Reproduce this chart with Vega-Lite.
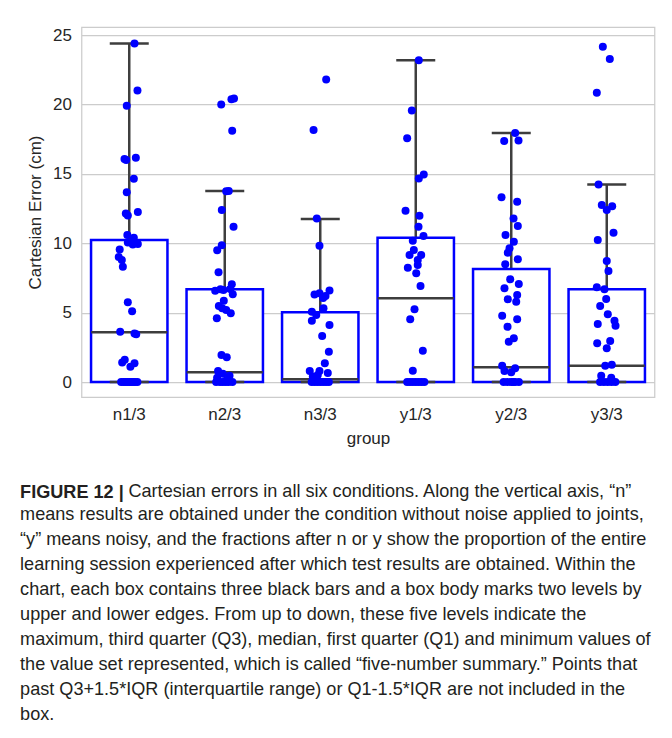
{
  "$schema": "https://vega.github.io/schema/vega-lite/v6.json",
  "padding": {"left": 18.5, "top": 25, "right": 10, "bottom": 10},
  "background": "white",
  "config": {
    "view": {"stroke": "#cccccc", "strokeWidth": 1.25},
    "font": "Liberation Sans"
  },
  "title": {
    "text": "Cartesian errors in all six conditions. Along the vertical axis, “n”",
    "orient": "bottom",
    "anchor": "start",
    "frame": "bounds",
    "dx": 109,
    "offset": -242,
    "font": "Liberation Sans",
    "fontSize": 18.1,
    "fontWeight": "normal",
    "color": "#231f20"
  },
  "datasets": {
    "stats": [
      {"group": "n1/3", "min": 0, "q1": 0, "median": 3.58, "q3": 10.23, "max": 24.4},
      {"group": "n2/3", "min": 0, "q1": 0, "median": 0.7, "q3": 6.68, "max": 13.76},
      {"group": "n3/3", "min": 0, "q1": 0, "median": 0.2, "q3": 5.02, "max": 11.74},
      {"group": "y1/3", "min": 0, "q1": 0, "median": 6.03, "q3": 10.4, "max": 23.18},
      {"group": "y2/3", "min": 0, "q1": 0, "median": 1.06, "q3": 8.14, "max": 17.94},
      {"group": "y3/3", "min": 0, "q1": 0, "median": 1.18, "q3": 6.68, "max": 14.24}
    ],
    "points": [
      {"group": "n1/3", "value": 24.4, "jitter": 0.055},
      {"group": "n1/3", "value": 21.0, "jitter": 0.086},
      {"group": "n1/3", "value": 19.9, "jitter": -0.026},
      {"group": "n1/3", "value": 16.07, "jitter": -0.05},
      {"group": "n1/3", "value": 16.0, "jitter": -0.032},
      {"group": "n1/3", "value": 16.15, "jitter": 0.069},
      {"group": "n1/3", "value": 14.65, "jitter": 0.048},
      {"group": "n1/3", "value": 13.67, "jitter": -0.026},
      {"group": "n1/3", "value": 12.15, "jitter": -0.036},
      {"group": "n1/3", "value": 12.0, "jitter": -0.015},
      {"group": "n1/3", "value": 12.25, "jitter": 0.09},
      {"group": "n1/3", "value": 10.6, "jitter": -0.02},
      {"group": "n1/3", "value": 10.4, "jitter": 0.048},
      {"group": "n1/3", "value": 10.05, "jitter": -0.015},
      {"group": "n1/3", "value": 9.9, "jitter": 0.037},
      {"group": "n1/3", "value": 9.95, "jitter": 0.09},
      {"group": "n1/3", "value": 9.55, "jitter": -0.1},
      {"group": "n1/3", "value": 9.0, "jitter": -0.11},
      {"group": "n1/3", "value": 8.8, "jitter": -0.078},
      {"group": "n1/3", "value": 8.3, "jitter": -0.067},
      {"group": "n1/3", "value": 5.75, "jitter": -0.015},
      {"group": "n1/3", "value": 5.1, "jitter": 0.03},
      {"group": "n1/3", "value": 3.63, "jitter": -0.095},
      {"group": "n1/3", "value": 3.5, "jitter": 0.055},
      {"group": "n1/3", "value": 3.45, "jitter": 0.073},
      {"group": "n1/3", "value": 1.6, "jitter": -0.047},
      {"group": "n1/3", "value": 1.4, "jitter": -0.074},
      {"group": "n1/3", "value": 1.35, "jitter": 0.055},
      {"group": "n1/3", "value": 1.1, "jitter": 0.012},
      {"group": "n1/3", "value": 0, "jitter": -0.085},
      {"group": "n1/3", "value": 0, "jitter": -0.06},
      {"group": "n1/3", "value": 0, "jitter": -0.04},
      {"group": "n1/3", "value": 0, "jitter": -0.02},
      {"group": "n1/3", "value": 0, "jitter": 0},
      {"group": "n1/3", "value": 0, "jitter": 0.02},
      {"group": "n1/3", "value": 0, "jitter": 0.04},
      {"group": "n1/3", "value": 0, "jitter": 0.06},
      {"group": "n1/3", "value": 0, "jitter": 0.085},

      {"group": "n2/3", "value": 20.0, "jitter": -0.037},
      {"group": "n2/3", "value": 20.37, "jitter": 0.07},
      {"group": "n2/3", "value": 20.43, "jitter": 0.097},
      {"group": "n2/3", "value": 18.1, "jitter": 0.078},
      {"group": "n2/3", "value": 13.74, "jitter": 0.015},
      {"group": "n2/3", "value": 13.76, "jitter": 0.042},
      {"group": "n2/3", "value": 12.39, "jitter": -0.031},
      {"group": "n2/3", "value": 11.19, "jitter": 0.092},
      {"group": "n2/3", "value": 9.85, "jitter": -0.031},
      {"group": "n2/3", "value": 9.5, "jitter": -0.079},
      {"group": "n2/3", "value": 7.9, "jitter": -0.065},
      {"group": "n2/3", "value": 7.04, "jitter": 0.074},
      {"group": "n2/3", "value": 6.58, "jitter": -0.1},
      {"group": "n2/3", "value": 6.68, "jitter": -0.045},
      {"group": "n2/3", "value": 6.63, "jitter": -0.013},
      {"group": "n2/3", "value": 6.7, "jitter": 0.057},
      {"group": "n2/3", "value": 6.32, "jitter": 0.084},
      {"group": "n2/3", "value": 5.86, "jitter": -0.01},
      {"group": "n2/3", "value": 5.48, "jitter": -0.062},
      {"group": "n2/3", "value": 5.31, "jitter": -0.027},
      {"group": "n2/3", "value": 5.19, "jitter": 0.015},
      {"group": "n2/3", "value": 4.95, "jitter": 0.063},
      {"group": "n2/3", "value": 4.59, "jitter": -0.083},
      {"group": "n2/3", "value": 1.95, "jitter": -0.034},
      {"group": "n2/3", "value": 1.78, "jitter": 0.021},
      {"group": "n2/3", "value": 0.8, "jitter": -0.07},
      {"group": "n2/3", "value": 0.6, "jitter": -0.02},
      {"group": "n2/3", "value": 0.45, "jitter": 0.05},
      {"group": "n2/3", "value": 0.3, "jitter": -0.08},
      {"group": "n2/3", "value": 0.15, "jitter": 0.02},
      {"group": "n2/3", "value": 0, "jitter": -0.09},
      {"group": "n2/3", "value": 0, "jitter": -0.05},
      {"group": "n2/3", "value": 0, "jitter": -0.02},
      {"group": "n2/3", "value": 0, "jitter": 0.01},
      {"group": "n2/3", "value": 0, "jitter": 0.04},
      {"group": "n2/3", "value": 0, "jitter": 0.08},

      {"group": "n3/3", "value": 21.8, "jitter": 0.062},
      {"group": "n3/3", "value": 18.16, "jitter": -0.07},
      {"group": "n3/3", "value": 11.78, "jitter": -0.036},
      {"group": "n3/3", "value": 9.82, "jitter": -0.008},
      {"group": "n3/3", "value": 6.3, "jitter": -0.06},
      {"group": "n3/3", "value": 6.4, "jitter": -0.008},
      {"group": "n3/3", "value": 6.2, "jitter": 0.055},
      {"group": "n3/3", "value": 6.6, "jitter": 0.097},
      {"group": "n3/3", "value": 6.05, "jitter": 0.03},
      {"group": "n3/3", "value": 5.31, "jitter": 0.034},
      {"group": "n3/3", "value": 5.07, "jitter": -0.088},
      {"group": "n3/3", "value": 4.83, "jitter": -0.042},
      {"group": "n3/3", "value": 4.42, "jitter": -0.088},
      {"group": "n3/3", "value": 4.11, "jitter": 0.097},
      {"group": "n3/3", "value": 3.31, "jitter": 0.02},
      {"group": "n3/3", "value": 2.18, "jitter": 0.09},
      {"group": "n3/3", "value": 1.35, "jitter": 0.048},
      {"group": "n3/3", "value": 0.8, "jitter": -0.11},
      {"group": "n3/3", "value": 0.8, "jitter": -0.008},
      {"group": "n3/3", "value": 0.65, "jitter": 0.079},
      {"group": "n3/3", "value": 0.5, "jitter": -0.026},
      {"group": "n3/3", "value": 0.4, "jitter": -0.078},
      {"group": "n3/3", "value": 0, "jitter": -0.09},
      {"group": "n3/3", "value": 0, "jitter": -0.06},
      {"group": "n3/3", "value": 0, "jitter": -0.03},
      {"group": "n3/3", "value": 0, "jitter": 0},
      {"group": "n3/3", "value": 0, "jitter": 0.03},
      {"group": "n3/3", "value": 0, "jitter": 0.06},
      {"group": "n3/3", "value": 0, "jitter": 0.09},

      {"group": "y1/3", "value": 23.18, "jitter": 0.032},
      {"group": "y1/3", "value": 19.57, "jitter": -0.041},
      {"group": "y1/3", "value": 17.56, "jitter": -0.09},
      {"group": "y1/3", "value": 14.67, "jitter": 0.032},
      {"group": "y1/3", "value": 14.96, "jitter": 0.084},
      {"group": "y1/3", "value": 12.34, "jitter": -0.107},
      {"group": "y1/3", "value": 11.98, "jitter": 0.039},
      {"group": "y1/3", "value": 11.19, "jitter": 0.029},
      {"group": "y1/3", "value": 10.52, "jitter": 0.081},
      {"group": "y1/3", "value": 10.18, "jitter": -0.031},
      {"group": "y1/3", "value": 9.51, "jitter": -0.02},
      {"group": "y1/3", "value": 9.15, "jitter": -0.065},
      {"group": "y1/3", "value": 9.15, "jitter": 0.057},
      {"group": "y1/3", "value": 8.79, "jitter": 0.021},
      {"group": "y1/3", "value": 8.24, "jitter": -0.083},
      {"group": "y1/3", "value": 8.43, "jitter": 0.021},
      {"group": "y1/3", "value": 7.83, "jitter": 0.005},
      {"group": "y1/3", "value": 6.92, "jitter": 0.05},
      {"group": "y1/3", "value": 5.24, "jitter": -0.013},
      {"group": "y1/3", "value": 4.52, "jitter": -0.058},
      {"group": "y1/3", "value": 2.26, "jitter": 0.074},
      {"group": "y1/3", "value": 0.82, "jitter": -0.031},
      {"group": "y1/3", "value": 0, "jitter": -0.09},
      {"group": "y1/3", "value": 0, "jitter": -0.06},
      {"group": "y1/3", "value": 0, "jitter": -0.03},
      {"group": "y1/3", "value": 0, "jitter": 0},
      {"group": "y1/3", "value": 0, "jitter": 0.03},
      {"group": "y1/3", "value": 0, "jitter": 0.06},
      {"group": "y1/3", "value": 0, "jitter": 0.09},

      {"group": "y2/3", "value": 17.94, "jitter": 0.041},
      {"group": "y2/3", "value": 17.36, "jitter": -0.074},
      {"group": "y2/3", "value": 17.41, "jitter": 0.076},
      {"group": "y2/3", "value": 13.31, "jitter": -0.102},
      {"group": "y2/3", "value": 12.99, "jitter": 0.062},
      {"group": "y2/3", "value": 11.79, "jitter": 0.024},
      {"group": "y2/3", "value": 11.24, "jitter": 0.069},
      {"group": "y2/3", "value": 10.59, "jitter": -0.06},
      {"group": "y2/3", "value": 10.11, "jitter": 0.027},
      {"group": "y2/3", "value": 9.63, "jitter": -0.018},
      {"group": "y2/3", "value": 9.32, "jitter": -0.036},
      {"group": "y2/3", "value": 8.84, "jitter": 0.069},
      {"group": "y2/3", "value": 8.48, "jitter": -0.063},
      {"group": "y2/3", "value": 7.4, "jitter": -0.011},
      {"group": "y2/3", "value": 7.06, "jitter": 0.079},
      {"group": "y2/3", "value": 6.75, "jitter": -0.071},
      {"group": "y2/3", "value": 6.27, "jitter": 0.062},
      {"group": "y2/3", "value": 5.96, "jitter": -0.036},
      {"group": "y2/3", "value": 5.79, "jitter": 0.052},
      {"group": "y2/3", "value": 4.78, "jitter": -0.095},
      {"group": "y2/3", "value": 4.52, "jitter": 0.062},
      {"group": "y2/3", "value": 3.98, "jitter": -0.039},
      {"group": "y2/3", "value": 2.9, "jitter": -0.026},
      {"group": "y2/3", "value": 3.15, "jitter": 0.027},
      {"group": "y2/3", "value": 1.17, "jitter": -0.095},
      {"group": "y2/3", "value": 0.99, "jitter": 0.041},
      {"group": "y2/3", "value": 0.7, "jitter": 0},
      {"group": "y2/3", "value": 0.8, "jitter": -0.071},
      {"group": "y2/3", "value": 0, "jitter": -0.08},
      {"group": "y2/3", "value": 0, "jitter": -0.04},
      {"group": "y2/3", "value": 0, "jitter": 0},
      {"group": "y2/3", "value": 0, "jitter": 0.02},
      {"group": "y2/3", "value": 0, "jitter": 0.04},
      {"group": "y2/3", "value": 0, "jitter": 0.08},

      {"group": "y3/3", "value": 24.16, "jitter": -0.041},
      {"group": "y3/3", "value": 23.27, "jitter": 0.032},
      {"group": "y3/3", "value": 20.84, "jitter": -0.104},
      {"group": "y3/3", "value": 14.24, "jitter": -0.086},
      {"group": "y3/3", "value": 12.75, "jitter": -0.052},
      {"group": "y3/3", "value": 12.66, "jitter": 0.057},
      {"group": "y3/3", "value": 12.39, "jitter": 0},
      {"group": "y3/3", "value": 10.76, "jitter": 0.071},
      {"group": "y3/3", "value": 10.23, "jitter": -0.094},
      {"group": "y3/3", "value": 8.72, "jitter": 0},
      {"group": "y3/3", "value": 8.0, "jitter": 0.018},
      {"group": "y3/3", "value": 6.82, "jitter": -0.104},
      {"group": "y3/3", "value": 6.68, "jitter": -0.024},
      {"group": "y3/3", "value": 5.98, "jitter": -0.006},
      {"group": "y3/3", "value": 5.48, "jitter": -0.069},
      {"group": "y3/3", "value": 4.88, "jitter": 0.011},
      {"group": "y3/3", "value": 4.42, "jitter": 0.081},
      {"group": "y3/3", "value": 4.06, "jitter": 0.092},
      {"group": "y3/3", "value": 4.18, "jitter": -0.094},
      {"group": "y3/3", "value": 2.95, "jitter": 0.036},
      {"group": "y3/3", "value": 2.79, "jitter": -0.1},
      {"group": "y3/3", "value": 2.43, "jitter": 0},
      {"group": "y3/3", "value": 1.18, "jitter": -0.016},
      {"group": "y3/3", "value": 1.25, "jitter": 0.053},
      {"group": "y3/3", "value": 0.45, "jitter": -0.058},
      {"group": "y3/3", "value": 0.3, "jitter": 0.047},
      {"group": "y3/3", "value": 0, "jitter": -0.07},
      {"group": "y3/3", "value": 0, "jitter": -0.03},
      {"group": "y3/3", "value": 0, "jitter": 0.01},
      {"group": "y3/3", "value": 0, "jitter": 0.05},
      {"group": "y3/3", "value": 0, "jitter": 0.09}
    ]
  },
  "vconcat": [
    {
      "width": 573,
      "height": 370,
      "title": {
        "text": "FIGURE 12 |",
        "subtitle": [
          "means results are obtained under the condition without noise applied to joints,",
          "“y” means noisy, and the fractions after n or y show the proportion of the entire",
          "learning session experienced after which test results are obtained. Within the",
          "chart, each box contains three black bars and a box body marks two levels by",
          "upper and lower edges. From up to down, these five levels indicate the",
          "maximum, third quarter (Q3), median, first quarter (Q1) and minimum values of",
          "the value set represented, which is called “five-number summary.” Points that",
          "past Q3+1.5*IQR (interquartile range) or Q1-1.5*IQR are not included in the",
          "box."
        ],
        "orient": "bottom",
        "anchor": "start",
        "frame": "bounds",
        "dx": -6.5,
        "offset": 38,
        "font": "Liberation Sans",
        "fontSize": 18.1,
        "fontWeight": "bold",
        "lineHeight": 25,
        "color": "#231f20",
        "subtitleFont": "Liberation Sans",
        "subtitleFontSize": 18.1,
        "subtitleFontWeight": "normal",
        "subtitleColor": "#231f20",
        "subtitleLineHeight": 25,
        "subtitlePadding": 4
      },
      "layer": [
        {
          "data": {"name": "stats"},
          "mark": {"type": "rule", "color": "#3f3f3f", "strokeWidth": 2.5},
          "encoding": {
            "x": {
              "field": "group", "type": "nominal",
              "sort": ["n1/3", "n2/3", "n3/3", "y1/3", "y2/3", "y3/3"],
              "scale": {"type": "band", "paddingInner": 0, "paddingOuter": 0},
              "axis": {
                "title": "group", "labelAngle": 0, "ticks": false, "domain": false, "grid": false,
                "labelFont": "Liberation Sans", "labelFontSize": 17, "labelColor": "#262626", "labelPadding": 9,
                "titleFont": "Liberation Sans", "titleFontSize": 17, "titleFontWeight": "normal", "titleColor": "#262626", "titlePadding": 8
              }
            },
            "y": {
              "field": "q3", "type": "quantitative",
              "scale": {"domain": [-1.08, 25.58], "nice": false, "zero": false},
              "axis": {
                "title": "Cartesian Error (cm)", "values": [0, 5, 10, 15, 20, 25],
                "ticks": false, "domain": false, "grid": true, "gridColor": "#cccccc", "gridWidth": 1.25,
                "labelFont": "Liberation Sans", "labelFontSize": 17, "labelColor": "#262626", "labelPadding": 10,
                "titleFont": "Liberation Sans", "titleFontSize": 17, "titleFontWeight": "normal", "titleColor": "#262626", "titlePadding": 8
              }
            },
            "y2": {"field": "max"}
          }
        },
        {
          "data": {"name": "stats"},
          "mark": {"type": "rule", "color": "#3f3f3f", "strokeWidth": 2.5},
          "encoding": {
            "x": {"field": "group", "type": "nominal", "sort": ["n1/3", "n2/3", "n3/3", "y1/3", "y2/3", "y3/3"]},
            "y": {"field": "min", "type": "quantitative"},
            "y2": {"field": "q1"}
          }
        },
        {
          "data": {"name": "stats"},
          "mark": {"type": "bar", "fill": "white", "stroke": "#0000ff", "strokeWidth": 2.5, "width": 76.4},
          "encoding": {
            "x": {"field": "group", "type": "nominal", "sort": ["n1/3", "n2/3", "n3/3", "y1/3", "y2/3", "y3/3"]},
            "y": {"field": "q1", "type": "quantitative"},
            "y2": {"field": "q3"}
          }
        },
        {
          "data": {"name": "stats"},
          "mark": {"type": "tick", "color": "#3d3d3d", "opacity": 1, "thickness": 2.5, "size": 76, "orient": "horizontal"},
          "encoding": {
            "x": {"field": "group", "type": "nominal", "sort": ["n1/3", "n2/3", "n3/3", "y1/3", "y2/3", "y3/3"]},
            "y": {"field": "median", "type": "quantitative"}
          }
        },
        {
          "data": {"name": "stats"},
          "mark": {"type": "tick", "color": "#3d3d3d", "opacity": 1, "thickness": 2.5, "size": 39, "orient": "horizontal"},
          "encoding": {
            "x": {"field": "group", "type": "nominal", "sort": ["n1/3", "n2/3", "n3/3", "y1/3", "y2/3", "y3/3"]},
            "y": {"field": "max", "type": "quantitative"}
          }
        },
        {
          "data": {"name": "stats"},
          "mark": {"type": "tick", "color": "#3d3d3d", "opacity": 1, "thickness": 2.5, "size": 39, "orient": "horizontal"},
          "encoding": {
            "x": {"field": "group", "type": "nominal", "sort": ["n1/3", "n2/3", "n3/3", "y1/3", "y2/3", "y3/3"]},
            "y": {"field": "min", "type": "quantitative"}
          }
        },
        {
          "data": {"name": "points"},
          "mark": {"type": "circle", "color": "#0000ff", "size": 64, "opacity": 1},
          "encoding": {
            "x": {"field": "group", "type": "nominal", "sort": ["n1/3", "n2/3", "n3/3", "y1/3", "y2/3", "y3/3"]},
            "xOffset": {"field": "jitter", "type": "quantitative", "scale": {"domain": [-0.5, 0.5]}},
            "y": {"field": "value", "type": "quantitative"}
          }
        }
      ]
    }
  ]
}
